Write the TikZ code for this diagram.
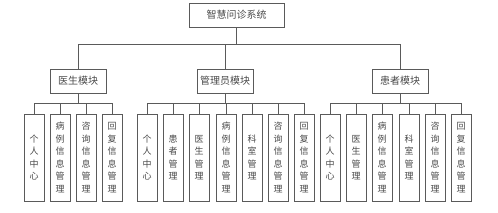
\documentclass[tikz,border=0pt]{standalone}
\usepackage{fontspec}
\setmainfont{Noto Sans CJK SC}
\usepackage{xcolor}
\definecolor{boxgray}{HTML}{5A5A5A}
\definecolor{txtgray}{HTML}{4A4A4A}

\begin{document}
\begin{tikzpicture}[
		x=1pt, y=-1pt,
		box/.style={
			rectangle,
			draw=boxgray,
			line width=0.7pt,
			minimum height=24pt,
			inner sep=0pt,
			text=txtgray,
			font=\fontsize{10}{12}\selectfont
		},
		leaf/.style={
			rectangle,
			draw=boxgray,
			line width=0.7pt,
			minimum width=20pt,
			minimum height=87pt,
			inner sep=0pt,
			align=center,
			text=txtgray,
			font=\fontsize{9}{12.5}\selectfont
		},
		link/.style={
			draw=boxgray,
			line width=0.7pt
		}
		]
		\useasboundingbox (0,0) rectangle (498,213);
		
		% top line
		\node[box, minimum width=95pt] (sys) at (236.5,15) {智慧问诊系统};
		\coordinate (sysbus) at (236.5,44);
		
		% module line
		\node[box, minimum width=56pt] (doc) at (78,81) {医生模块};
		\node[box, minimum width=56pt] (adm) at (225,81) {管理员模块};
		\node[box, minimum width=56pt] (pat) at (400,81) {患者模块};
		%--
		\draw[link] (sys.south) -- (sysbus);
		\draw[link] (sysbus) -| (doc.north);
		\draw[link] (sysbus) -| (adm.north);
		\draw[link] (sysbus) -| (pat.north);
		
		% bus under modules
		\coordinate (docbus) at (78,103);
		\coordinate (admbus) at (225,103);
		\coordinate (patbus) at (400,103);
		\draw[link] (doc.south) -- (docbus);
		\draw[link] (adm.south) -- (admbus);
		\draw[link] (pat.south) -- (patbus);
		
		% leaves of doc
		\foreach \x/\txt [count=\i] in {
			34/{个\\人\\中\\心},
			60/{病\\例\\信\\息\\管\\理},
			86/{咨\\询\\信\\息\\管\\理},
			112/{回\\复\\信\\息\\管\\理}}
		{
			\node[leaf] (d\i) at (\x,157.5) {\txt};
			\draw[link] (docbus) -| (d\i.north);
		}
		
		% leaves of adm
		\foreach \x/\txt [count=\i] in {
			147/{个\\人\\中\\心},
			173/{患\\者\\管\\理},
			199/{医\\生\\管\\理},
			226/{病\\例\\信\\息\\管\\理},
			252/{科\\室\\管\\理},
			278/{咨\\询\\信\\息\\管\\理},
			304/{回\\复\\信\\息\\管\\理}}
		{
			\node[leaf] (a\i) at (\x,157.5) {\txt};
			\draw[link] (admbus) -| (a\i.north);
		}
		
		% leaves of pat
		\foreach \x/\txt [count=\i] in {
			330/{个\\人\\中\\心},
			356/{医\\生\\管\\理},
			382/{病\\例\\信\\息\\管\\理},
			409/{科\\室\\管\\理},
			435/{咨\\询\\信\\息\\管\\理},
			461/{回\\复\\信\\息\\管\\理}}
		{
			\node[leaf] (p\i) at (\x,157.5) {\txt};
			\draw[link] (patbus) -| (p\i.north);
		}
		
	\end{tikzpicture}
\end{document}
